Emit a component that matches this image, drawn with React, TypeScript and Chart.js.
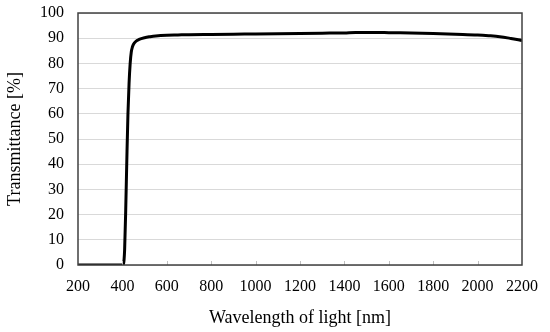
import React, { useEffect, useRef } from "react";
import { Chart, registerables } from "chart.js";

Chart.register(...registerables);

const wavelengths = [200, 300, 400, 405, 410, 415, 420, 425, 430, 435, 440, 445, 450, 460, 475, 500, 525, 550, 600, 650, 700, 800, 900, 1000, 1100, 1200, 1300, 1400, 1450, 1500, 1550, 1600, 1700, 1800, 1900, 2000, 2050, 2100, 2150, 2200];
const transmittance = [0, 0, 0, 0.5, 6, 22, 42, 60, 72, 80, 84.5, 86.5, 87.6, 88.7, 89.5, 90.2, 90.6, 90.9, 91.2, 91.3, 91.4, 91.5, 91.6, 91.7, 91.8, 91.9, 92.0, 92.1, 92.3, 92.3, 92.3, 92.2, 92.1, 91.9, 91.6, 91.3, 91.0, 90.6, 89.9, 89.1];
const xTicks = [200, 400, 600, 800, 1000, 1200, 1400, 1600, 1800, 2000, 2200];
const yTicks = [0, 10, 20, 30, 40, 50, 60, 70, 80, 90, 100];
const xTitle = "Wavelength of light [nm]";
const yTitle = "Transmittance [%]";

const FONT = "'Liberation Serif', 'Times New Roman', serif";

const boxPlugin = {
  id: "boxPlugin",
  afterDraw(chart: any) {
    const { ctx, chartArea, scales } = chart;
    const x = scales.x;
    ctx.save();
    ctx.strokeStyle = "#bfbfbf";
    ctx.lineWidth = 1;
    xTicks.forEach((v) => {
      if (v === xTicks[0] || v === xTicks[xTicks.length - 1]) return;
      const px = Math.round(x.getPixelForValue(v)) + 0.5;
      ctx.beginPath();
      ctx.moveTo(px, chartArea.bottom);
      ctx.lineTo(px, chartArea.bottom - 4);
      ctx.stroke();
    });
    ctx.strokeStyle = "#404040";
    ctx.lineWidth = 1.5;
    ctx.strokeRect(chartArea.left, chartArea.top, chartArea.right - chartArea.left, chartArea.bottom - chartArea.top);
    ctx.restore();
  },
};

export default function App() {
  const ref = useRef<HTMLCanvasElement>(null);
  useEffect(() => {
    if (!ref.current) return;
    const chart = new Chart(ref.current, {
      type: "line",
      data: {
        datasets: [
          {
            data: wavelengths.map((w, i) => ({ x: w, y: transmittance[i] })),
            borderColor: "#000000",
            borderWidth: 3,
            pointRadius: 0,
            cubicInterpolationMode: "monotone",
            fill: false,
          },
        ],
      },
      options: {
        responsive: false,
        animation: false,
        layout: { padding: { top: 13, right: 28, left: 0, bottom: 0 } },
        plugins: { legend: { display: false }, tooltip: { enabled: false } },
        scales: {
          x: {
            type: "linear",
            min: 200,
            max: 2200,
            afterBuildTicks: (s: any) => {
              s.ticks = xTicks.map((v) => ({ value: v }));
            },
            afterFit: (s: any) => {
              s.height = 67;
              s.paddingLeft = 0;
              s.paddingRight = 0;
            },
            grid: { display: false, drawTicks: false },
            border: { display: false },
            ticks: { color: "#000", font: { family: FONT, size: 16 }, padding: 12, maxRotation: 0, callback: (v: any) => String(v) },
            title: { display: true, text: xTitle, color: "#000", font: { family: FONT, size: 18 }, padding: { top: 0, bottom: 3 } },
          },
          y: {
            min: 0,
            max: 100,
            afterBuildTicks: (s: any) => {
              s.ticks = yTicks.map((v) => ({ value: v }));
            },
            afterFit: (s: any) => {
              s.width = 78;
              s.paddingTop = 0;
              s.paddingBottom = 0;
            },
            grid: { color: "#d9d9d9", lineWidth: 1, drawTicks: false },
            border: { display: false },
            ticks: { color: "#000", font: { family: FONT, size: 16 }, padding: 14, callback: (v: any) => String(v) },
            title: { display: true, text: yTitle, color: "#000", font: { family: FONT, size: 18 }, padding: { top: 4, bottom: 0 } },
          },
        },
      },
      plugins: [boxPlugin],
    } as any);
    return () => chart.destroy();
  }, []);
  return (
    <div style={{ position: "absolute", left: 0, top: 0, width: 550, height: 332, background: "#fff" }}>
      <canvas ref={ref} width={550} height={332} style={{ width: 550, height: 332, display: "block" }} />
    </div>
  );
}
